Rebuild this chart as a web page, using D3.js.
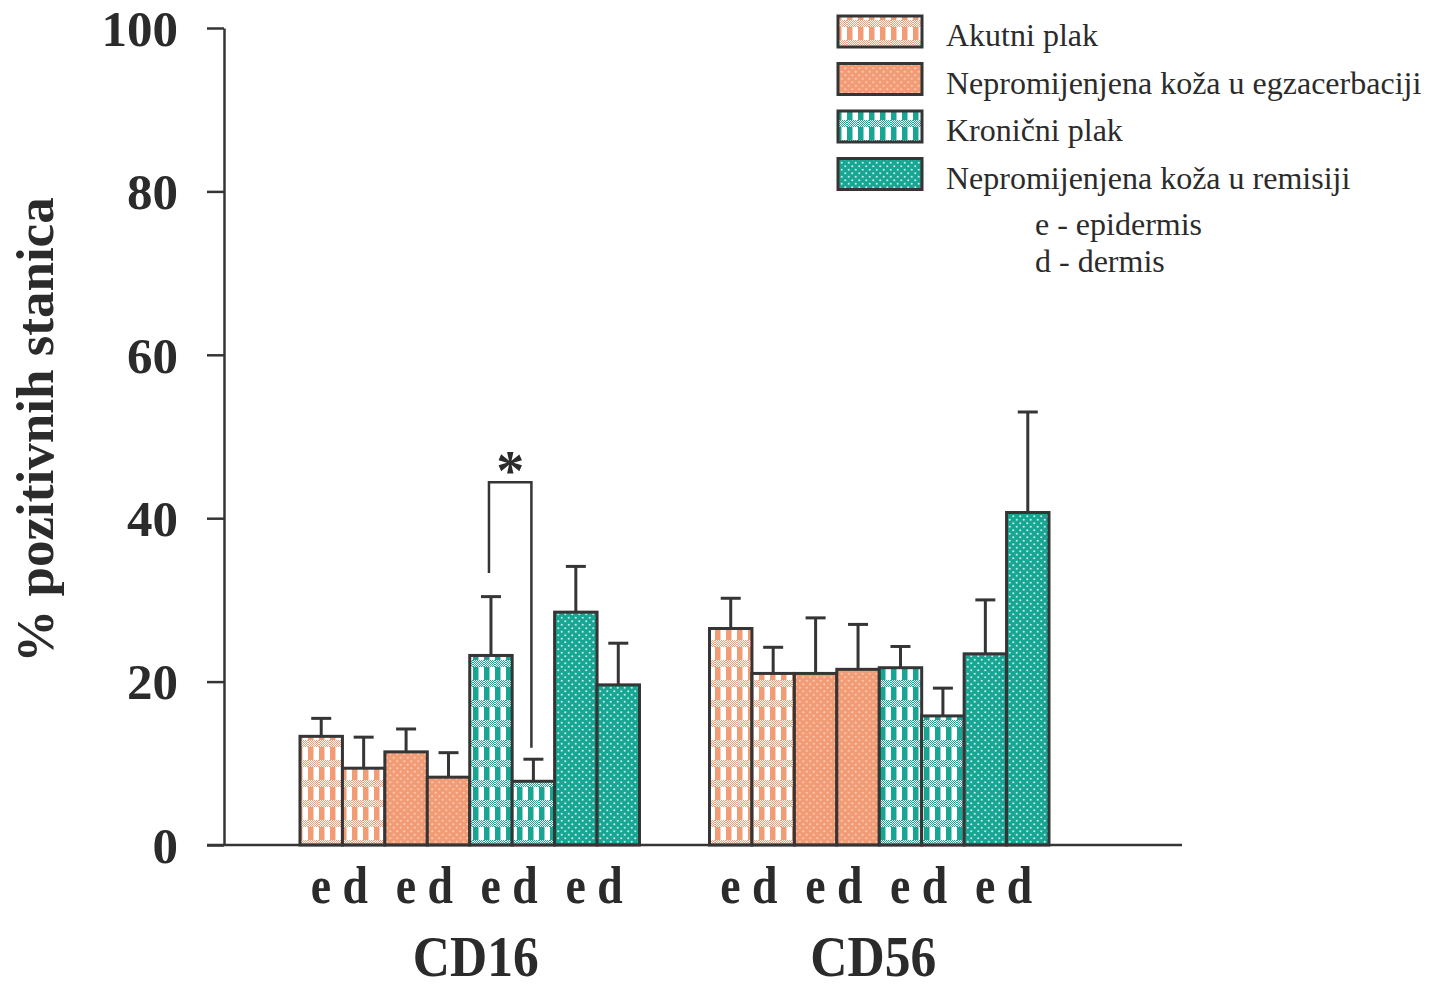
<!DOCTYPE html>
<html>
<head>
<meta charset="utf-8">
<script src="https://cdn.jsdelivr.net/npm/d3@7"></script>
<style>
  html, body { margin: 0; padding: 0; background: #ffffff; }
  svg { display: block; }
</style>
</head>
<body>
<svg id="chart" width="1430" height="989"></svg>
<script>
// ---------------- data ----------------
const groups = ["CD16", "CD56"];
const series = ["Akutni plak", "Nepromijenjena koža u egzacerbaciji", "Kronični plak", "Nepromijenjena koža u remisiji"];
const layers = ["e", "d"];
// order: series0-e, series0-d, series1-e, series1-d, ...
const meanCD16 = [13.3, 9.4, 11.4, 8.3, 23.2, 7.8, 28.5, 19.6];
const errCD16  = [2.2, 3.8, 2.8, 3.0, 7.2, 2.7, 5.6, 5.1];
const meanCD56 = [26.5, 21.0, 21.0, 21.5, 21.7, 15.8, 23.4, 40.7];
const errCD56  = [3.7, 3.2, 6.8, 5.5, 2.6, 3.4, 6.6, 12.3];
const yTicks = [0, 20, 40, 60, 80, 100];
const yTitle = "% pozitivnih stanica";
const layerNotes = ["e - epidermis", "d - dermis"];
// significance bracket (CD16, Kronični plak e vs d)
const sigPair = [4, 5];
const sigLevels = [44.4, 33.3, 11.9]; // top, left end, right end
const sigLabel = "*";

// ---------------- setup ----------------
const svg = d3.select("#chart");
const ink = "#353535";
const orange = "#F29C76";
const teal = "#17A693";
const serif = "'Liberation Serif', 'Times New Roman', serif";
const groupLabelShift = [6, -6];

const defs = svg.append("defs");
function dither(id, col) {
  const p = defs.append("pattern").attr("id", id).attr("patternUnits", "userSpaceOnUse")
    .attr("width", 2).attr("height", 2);
  p.append("rect").attr("width", 2).attr("height", 2).attr("fill", "#ffffff");
  p.append("rect").attr("x", 0).attr("y", 0).attr("width", 1).attr("height", 1).attr("fill", col);
  p.append("rect").attr("x", 1).attr("y", 1).attr("width", 1).attr("height", 1).attr("fill", col);
}
function checker(id, col, ditherId) {
  const p = defs.append("pattern").attr("id", id).attr("patternUnits", "userSpaceOnUse")
    .attr("width", 11).attr("height", 20);
  p.append("rect").attr("width", 11).attr("height", 20).attr("fill", "#ffffff");
  p.append("rect").attr("x", 0).attr("y", 0).attr("width", 11).attr("height", 7).attr("fill", `url(#${ditherId})`);
  p.append("rect").attr("x", 0).attr("y", 7).attr("width", 5.5).attr("height", 13).attr("fill", col);
}
function dotted(id, col, op) {
  const p = defs.append("pattern").attr("id", id).attr("patternUnits", "userSpaceOnUse")
    .attr("width", 7).attr("height", 7);
  p.append("rect").attr("width", 7).attr("height", 7).attr("fill", col);
  p.append("circle").attr("cx", 1.75).attr("cy", 1.75).attr("r", 1.1).attr("fill", "#fff").attr("opacity", op);
  p.append("circle").attr("cx", 5.25).attr("cy", 5.25).attr("r", 1.1).attr("fill", "#fff").attr("opacity", op);
}
dither("dOr", orange);
dither("dTe", teal);
checker("pAk", orange, "dOr");
dotted("pNe", orange, 0.45);
checker("pKr", teal, "dTe");
dotted("pNr", teal, 0.75);
const fills = ["url(#pAk)", "url(#pNe)", "url(#pKr)", "url(#pNr)"];

const y = d3.scaleLinear().domain([0, 100]).range([845, 28]);
const x0 = d3.scaleBand().domain(groups).range([300, 1049]).paddingInner(0.171);
const keys = d3.range(series.length * layers.length);
const x1 = d3.scaleBand().domain(keys).range([0, x0.bandwidth()]).padding(0);

const dataByGroup = { CD16: { m: meanCD16, e: errCD16 }, CD56: { m: meanCD56, e: errCD56 } };
const bars = [];
groups.forEach(g => keys.forEach(k => bars.push({ g, k, s: Math.floor(k / 2), v: dataByGroup[g].m[k], err: dataByGroup[g].e[k] })));

// ---------------- error bars (drawn first, behind bars) ----------------
const eb = svg.append("g").attr("stroke", ink).attr("stroke-width", 3);
bars.forEach(b => {
  const cx = x0(b.g) + x1(b.k) + x1.bandwidth() / 2;
  eb.append("line").attr("x1", cx).attr("x2", cx).attr("y1", y(b.v)).attr("y2", y(b.v + b.err));
  eb.append("line").attr("x1", cx - 10).attr("x2", cx + 10).attr("y1", y(b.v + b.err)).attr("y2", y(b.v + b.err));
});

// ---------------- bars ----------------
svg.append("g").selectAll("rect").data(bars).join("rect")
  .attr("x", d => x0(d.g) + x1(d.k))
  .attr("y", d => y(d.v))
  .attr("width", x1.bandwidth())
  .attr("height", d => y(0) - y(d.v))
  .attr("fill", d => fills[d.s])
  .attr("stroke", ink).attr("stroke-width", 3);

// ---------------- axes ----------------
const yAxis = svg.append("g").attr("transform", "translate(224,0)")
  .call(d3.axisLeft(y).tickValues(yTicks).tickSize(17).tickSizeOuter(0).tickPadding(29));
yAxis.select(".domain").attr("stroke", ink).attr("stroke-width", 2.5);
yAxis.selectAll(".tick line").attr("stroke", ink).attr("stroke-width", 2.5);
yAxis.selectAll(".tick text").attr("font-family", serif).attr("font-weight", "bold")
  .attr("font-size", 51).attr("fill", "#2b2b2b").attr("dy", "0.34em");

svg.append("line").attr("x1", 207).attr("x2", 1182).attr("y1", y(0)).attr("y2", y(0))
  .attr("stroke", ink).attr("stroke-width", 2.5);

// layer labels under bar pairs
groups.forEach((g, gi) => {
  series.forEach((s, i) => {
    const cx = x0(g) + x1(i * 2) + x1.bandwidth() - 3;
    svg.append("text").attr("transform", `translate(${cx},903) scale(0.88,1)`)
      .attr("text-anchor", "middle").attr("font-family", serif).attr("font-weight", "bold")
      .attr("font-size", 52).attr("fill", "#2b2b2b").text(layers.join(" "));
  });
  svg.append("text").attr("transform", `translate(${x0(g) + x0.bandwidth() / 2 + groupLabelShift[gi]},976) scale(0.92,1)`)
    .attr("text-anchor", "middle").attr("font-family", serif).attr("font-weight", "bold")
    .attr("font-size", 56).attr("fill", "#2b2b2b").text(g);
});

// y title
svg.append("text").attr("transform", "translate(53,430) rotate(-90)")
  .attr("text-anchor", "middle").attr("font-family", serif).attr("font-weight", "bold")
  .attr("font-size", 53).attr("fill", "#2b2b2b").text(yTitle);

// ---------------- significance bracket ----------------
const bx1 = x0("CD16") + x1(sigPair[0]) + x1.bandwidth() / 2 - 2;
const bx2 = x0("CD16") + x1(sigPair[1]) + x1.bandwidth() / 2 - 2;
svg.append("path")
  .attr("d", `M${bx1},${y(sigLevels[1])} V${y(sigLevels[0])} H${bx2} V${y(sigLevels[2])}`)
  .attr("fill", "none").attr("stroke", ink).attr("stroke-width", 2.5);
svg.append("text").attr("x", (bx1 + bx2) / 2).attr("y", y(sigLevels[0]) + 8)
  .attr("text-anchor", "middle").attr("font-family", serif).attr("font-weight", "bold")
  .attr("font-size", 56).attr("fill", "#2b2b2b").text(sigLabel);

// ---------------- legend ----------------
const lg = svg.append("g");
series.forEach((s, i) => {
  const top = 16 + i * 47.5;
  lg.append("rect").attr("x", 838).attr("y", top).attr("width", 84).attr("height", 31)
    .attr("fill", fills[i]).attr("stroke", ink).attr("stroke-width", 3);
  lg.append("text").attr("x", 946).attr("y", top + 30).attr("font-family", serif)
    .attr("font-size", 32).attr("fill", "#2b2b2b").text(s);
});
layerNotes.forEach((t, i) => {
  lg.append("text").attr("x", 1035).attr("y", 235 + i * 37).attr("font-family", serif)
    .attr("font-size", 32).attr("fill", "#2b2b2b").text(t);
});
</script>
</body>
</html>
